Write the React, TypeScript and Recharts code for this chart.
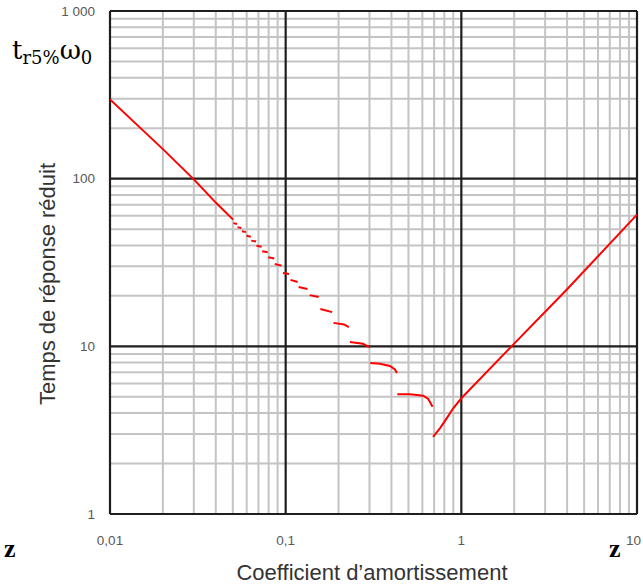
import React from 'react';
import { LineChart, Line, XAxis, YAxis, ReferenceLine } from 'recharts';

// Damping coefficient (z) and reduced 5% response time (t_r5% * w0), one list per continuous piece of the curve
const segZ: number[][] = [
  [0.01, 0.02, 0.03, 0.04, 0.0502],
  [0.0504, 0.0528],
  [0.0532, 0.0559],
  [0.0563, 0.0594],
  [0.0598, 0.0633],
  [0.0637, 0.0678],
  [0.0682, 0.073],
  [0.0735, 0.079],
  [0.0796, 0.0861],
  [0.0867, 0.0948],
  [0.0965, 0.1045],
  [0.1065, 0.117],
  [0.1185, 0.133],
  [0.137, 0.154],
  [0.1575, 0.184],
  [0.187, 0.215, 0.229],
  [0.232, 0.275, 0.3],
  [0.303, 0.344, 0.392, 0.419, 0.43],
  [0.432, 0.51, 0.607, 0.648, 0.686],
  [0.69, 0.755, 0.825, 0.899, 1, 1.93, 4, 10],
];
const segT: number[][] = [
  [297, 150, 99, 72, 57],
  [54.3, 53.7],
  [51.4, 50.8],
  [48.5, 48.0],
  [45.6, 45.1],
  [42.7, 42.2],
  [39.8, 39.3],
  [36.9, 36.4],
  [34.0, 33.4],
  [31.0, 30.3],
  [27.4, 27.0],
  [24.9, 24.2],
  [22.6, 22.0],
  [20.2, 19.7],
  [16.7, 16.0],
  [13.8, 13.5, 13.0],
  [10.6, 10.35, 9.9],
  [7.95, 7.87, 7.63, 7.29, 6.93],
  [5.17, 5.17, 5.08, 4.85, 4.36],
  [2.88, 3.24, 3.72, 4.27, 4.9, 10, 21.9, 61],
];

const xMajor = [0.01, 0.1, 1, 10];
const yMajor = [1, 10, 100, 1000];
const xMinor = [0.02, 0.03, 0.04, 0.05, 0.06, 0.07, 0.08, 0.09, 0.2, 0.3, 0.4, 0.5, 0.6, 0.7, 0.8, 0.9, 2, 3, 4, 5, 6, 7, 8, 9];
const yMinor = [2, 3, 4, 5, 6, 7, 8, 9, 20, 30, 40, 50, 60, 70, 80, 90, 200, 300, 400, 500, 600, 700, 800, 900];
const xTickLabels: Record<number, string> = { 0.01: '0,01', 0.1: '0,1', 1: '1', 10: '10' };
const yTickLabels: Record<number, string> = { 1: '1', 10: '10', 100: '100', 1000: '1 000' };

const data: { z: number; t: number | null }[] = [];
segZ.forEach((zs, i) => {
  zs.forEach((z, j) => data.push({ z, t: segT[i][j] }));
  if (i < segZ.length - 1) data.push({ z: (zs[zs.length - 1] + segZ[i + 1][0]) / 2, t: null });
});

const W = 643;
const H = 584;
const FONT = 'Liberation Sans, Arial, sans-serif';
const tickStyle = { fontFamily: FONT, fontSize: 13.5, fill: '#595959' };

const XTick = (props: any) => {
  const { x, y, payload } = props;
  const v = payload.value as number;
  const last = v === xMajor[xMajor.length - 1];
  return (
    <text
      x={last ? W - 2 : x}
      y={y}
      dy="0.71em"
      textAnchor={last ? 'end' : 'middle'}
      fontFamily={FONT}
      fontSize={13.5}
      fill="#595959"
    >
      {xTickLabels[v] ?? ''}
    </text>
  );
};

export default function App() {
  return (
    <div style={{ position: 'absolute', left: 0, top: 0, width: W, height: H, background: '#fff' }}>
      <LineChart width={W} height={H} data={data} margin={{ top: 11, right: 6, bottom: 30, left: 0 }}>
        <XAxis
          dataKey="z"
          type="number"
          scale="log"
          domain={[0.01, 10]}
          ticks={xMajor}
          allowDataOverflow
          axisLine={false}
          tickLine={false}
          tickSize={0}
          tickMargin={21}
          height={40}
          tick={<XTick />}
          interval={0}
        />
        <YAxis
          type="number"
          scale="log"
          domain={[1, 1000]}
          ticks={yMajor}
          allowDataOverflow
          tickFormatter={(v: number) => yTickLabels[v] ?? ''}
          axisLine={false}
          tickLine={false}
          tickSize={0}
          tickMargin={15}
          width={110}
          tick={tickStyle}
          interval={0}
        />
        {xMinor.map((v) => (
          <ReferenceLine key={'xm' + v} x={v} stroke="#c4c4c4" strokeWidth={2} />
        ))}
        {yMinor.map((v) => (
          <ReferenceLine key={'ym' + v} y={v} stroke="#c4c4c4" strokeWidth={2} />
        ))}
        {xMajor.map((v) => (
          <ReferenceLine key={'xM' + v} x={v} stroke="#1e1e1e" strokeWidth={2.2} />
        ))}
        {yMajor.map((v) => (
          <ReferenceLine key={'yM' + v} y={v} stroke="#1e1e1e" strokeWidth={2.2} />
        ))}
        <Line
          dataKey="t"
          type="linear"
          stroke="#ff0000"
          strokeWidth={2}
          dot={false}
          activeDot={false}
          connectNulls={false}
          isAnimationActive={false}
          zIndex={1000}
        />
      </LineChart>
      <svg width={W} height={H} style={{ position: 'absolute', left: 0, top: 0, pointerEvents: 'none' }}>
        <text
          transform="translate(47,284) rotate(-90)"
          textAnchor="middle"
          dominantBaseline="central"
          fontFamily={FONT}
          fontSize={22}
          fill="#333"
        >
          Temps de réponse réduit
        </text>
        <text
          x={372}
          y={572}
          textAnchor="middle"
          dominantBaseline="central"
          fontFamily={FONT}
          fontSize={22}
          fill="#333"
        >
          Coefficient d’amortissement
        </text>
        <text x={12} y={59} fontFamily="DejaVu Serif, Liberation Serif, serif" fill="#000">
          <tspan fontSize={26}>t</tspan>
          <tspan fontSize={18} dy={5}>r5%</tspan>
          <tspan fontSize={26} dy={-5}>ω</tspan>
          <tspan fontSize={18} dy={5}>0</tspan>
        </text>
        <text x={4} y={557} fontFamily="Liberation Serif, serif" fontWeight="bold" fontSize={26} fill="#000">
          z
        </text>
        <text x={609} y={557} fontFamily="Liberation Serif, serif" fontWeight="bold" fontSize={26} fill="#000">
          z
        </text>
      </svg>
    </div>
  );
}
